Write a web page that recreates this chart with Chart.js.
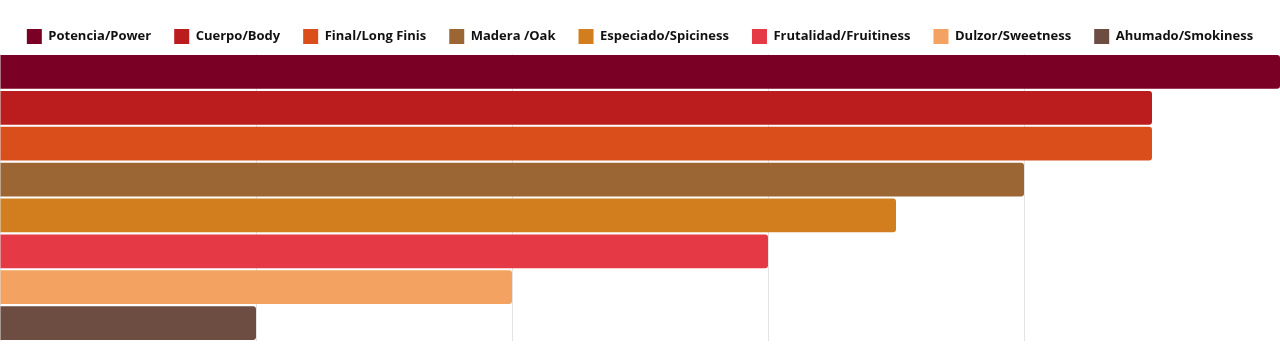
<!DOCTYPE html>
<html><head><meta charset="utf-8">
<script src="https://cdn.jsdelivr.net/npm/chart.js@4"></script>
<style>html,body{margin:0;padding:0;background:#fff}#wrap{width:1280px;height:356px}</style>
</head><body><div id="wrap"><canvas id="c"></canvas></div>
<script>
const categories = [''];
const seriesNames = ['Potencia/Power','Cuerpo/Body','Final/Long Finis','Madera /Oak','Especiado/Spiciness','Frutalidad/Fruitiness','Dulzor/Sweetness','Ahumado/Smokiness'];
const seriesValues = [5, 4.5, 4.5, 4, 3.5, 3, 2, 1];
const seriesColors = ['#7B0026','#BB1C1E','#DA4E1C','#9B6633','#D27E1E','#E63946','#F4A261','#6D4C41'];

new Chart(document.getElementById('c'), {
  type: 'bar',
  data: {
    labels: categories,
    datasets: seriesNames.map((n,i)=>({label:n,data:[seriesValues[i]],backgroundColor:seriesColors[i],borderRadius:3,borderSkipped:'start',barPercentage:0.94,categoryPercentage:1}))
  },
  options: {
    indexAxis:'y', responsive:true, maintainAspectRatio:false, animation:false,
    layout:{padding:{bottom:15,left:0,right:0,top:6}},
    plugins:{legend:{labels:{font:{family:'"Open Sans"',size:13,weight:'bold'},color:'#111',boxWidth:15,boxHeight:15,padding:23}},tooltip:{enabled:false}},
    scales:{
      x:{min:0,max:5,ticks:{display:false,stepSize:1},grid:{color:'#e3e3e3',drawTicks:false},border:{display:false}},
      y:{display:false}
    }
  }
});
</script></body></html>
